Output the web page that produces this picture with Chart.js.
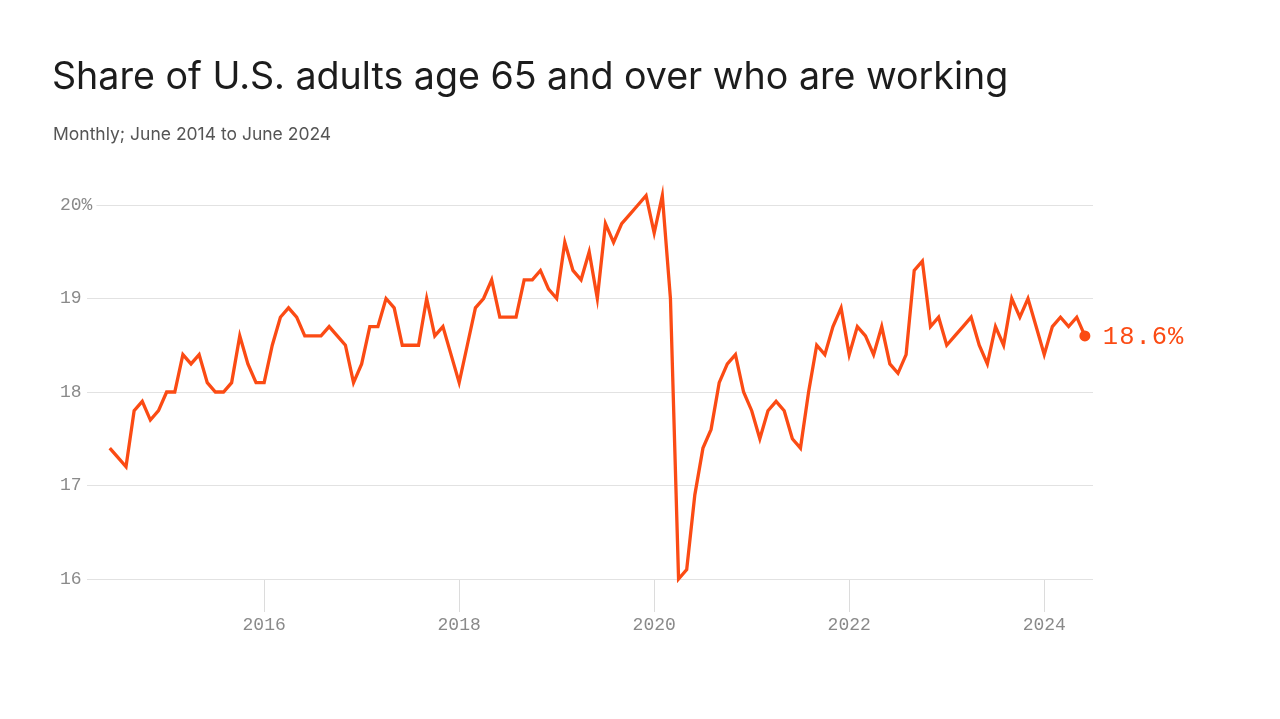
<!DOCTYPE html>
<html>
<head>
<meta charset="utf-8">
<script src="https://cdn.jsdelivr.net/npm/chart.js@4.4.1/dist/chart.umd.min.js"></script>
<style>
  html, body { margin: 0; padding: 0; background: #fff; }
  body { width: 1280px; height: 719px; position: relative; overflow: hidden; font-family: Inter, "Noto Sans", sans-serif; }
  #chart { position: absolute; left: 0; top: 0; }
  #title { position: absolute; left: 52px; top: 57px; margin: 0; font-size: 37.6px; line-height: 38px; font-weight: 400; color: #1c1c1c; letter-spacing: 0; white-space: nowrap; }
  #subtitle { position: absolute; left: 53px; top: 125px; font-size: 17.5px; line-height: 18px; color: #555; white-space: nowrap; }
</style>
</head>
<body>
<canvas id="chart" width="1280" height="719"></canvas>
<h1 id="title">Share of U.S. adults age 65 and over who are working</h1>
<div id="subtitle">Monthly; June 2014 to June 2024</div>
<script>
// monthly share (%), June 2014 .. June 2024
const shareValues = [
  17.4, 17.3, 17.2, 17.8, 17.9, 17.7, 17.8,                   // 2014 Jun-Dec
  18.0, 18.0, 18.4, 18.3, 18.4, 18.1, 18.0, 18.0, 18.1, 18.6, 18.3, 18.1, // 2015
  18.1, 18.5, 18.8, 18.9, 18.8, 18.6, 18.6, 18.6, 18.7, 18.6, 18.5, 18.1, // 2016
  18.3, 18.7, 18.7, 19.0, 18.9, 18.5, 18.5, 18.5, 19.0, 18.6, 18.7, 18.4, // 2017
  18.1, 18.5, 18.9, 19.0, 19.2, 18.8, 18.8, 18.8, 19.2, 19.2, 19.3, 19.1, // 2018
  19.0, 19.6, 19.3, 19.2, 19.5, 19.0, 19.8, 19.6, 19.8, 19.9, 20.0, 20.1, // 2019
  19.7, 20.1, 19.0, 16.0, 16.1, 16.9, 17.4, 17.6, 18.1, 18.3, 18.4, 18.0, // 2020
  17.8, 17.5, 17.8, 17.9, 17.8, 17.5, 17.4, 18.0, 18.5, 18.4, 18.7, 18.9, // 2021
  18.4, 18.7, 18.6, 18.4, 18.7, 18.3, 18.2, 18.4, 19.3, 19.4, 18.7, 18.8, // 2022
  18.5, 18.6, 18.7, 18.8, 18.5, 18.3, 18.7, 18.5, 19.0, 18.8, 19.0, 18.7, // 2023
  18.4, 18.7, 18.8, 18.7, 18.8, 18.6                          // 2024 Jan-Jun
];

// x axis: months counted from June 2014
const yearTickMonths = [19, 43, 67, 91, 115];
const yearTickLabels = ['2016', '2018', '2020', '2022', '2024'];

const yTickValues = [16, 17, 18, 19, 20];
const yTickLabels = ['16', '17', '18', '19', '20%'];

const lineColor = '#fb4b14';
const tickFont = { family: '"Liberation Mono", "DejaVu Sans Mono", monospace', size: 18 };

const points = shareValues.map((v, i) => ({ x: i, y: v }));
const last = shareValues.length - 1;

// value label next to the last point
const endLabel = {
  id: 'endLabel',
  afterDatasetsDraw(chart) {
    const meta = chart.getDatasetMeta(0);
    const pt = meta.data[last];
    const ctx = chart.ctx;
    ctx.save();
    ctx.font = '25.5px "Liberation Mono", monospace';
    ctx.letterSpacing = '1px';
    ctx.fillStyle = lineColor;
    ctx.textBaseline = 'middle';
    ctx.textAlign = 'left';
    ctx.fillText(shareValues[last].toFixed(1) + '%', pt.x + 18, pt.y + 1);
    ctx.restore();
  }
};

const config = {
  type: 'line',
  data: {
    datasets: [{
      data: points,
      borderColor: lineColor,
      backgroundColor: lineColor,
      borderWidth: 3.3,
      tension: 0,
      clip: false,
      pointRadius: c => c.dataIndex === last ? 5.5 : 0,
      pointHoverRadius: 0,
      pointBorderWidth: 0,
      pointBackgroundColor: lineColor
    }]
  },
  options: {
    responsive: false,
    animation: false,
    devicePixelRatio: 1,
    layout: { padding: { left: 60, right: 187, top: 205, bottom: 0 } },
    plugins: { legend: { display: false }, tooltip: { enabled: false } },
    scales: {
      x: {
        type: 'linear',
        min: -2.8,
        max: 121,
        afterFit: s => { s.height = 140; },
        afterBuildTicks: s => { s.ticks = yearTickMonths.map(v => ({ value: v })); },
        border: { display: false },
        grid: { drawOnChartArea: false, drawTicks: true, tickLength: 33, color: '#dcdcdc' },
        ticks: {
          color: '#8a8a8a', font: tickFont, padding: 2, maxRotation: 0, autoSkip: false,
          callback: (v, i) => yearTickLabels[i]
        }
      },
      y: {
        min: 16,
        max: 20,
        afterFit: s => { s.width = 27; },
        afterBuildTicks: s => { s.ticks = yTickValues.map(v => ({ value: v })); },
        border: { display: false },
        grid: { color: '#e2e2e2', drawTicks: false },
        ticks: {
          // mirrored so the labels are not clipped to the narrow axis box
          mirror: true, padding: -27,
          color: '#8a8a8a', font: tickFont,
          showLabelBackdrop: true, backdropColor: '#ffffff',
          backdropPadding: { left: 0, right: 4, top: 0, bottom: 0 },
          callback: (v, i) => yTickLabels[i]
        }
      }
    }
  },
  plugins: [endLabel]
};

const chart = new Chart(document.getElementById('chart').getContext('2d'), config);
</script>
</body>
</html>
